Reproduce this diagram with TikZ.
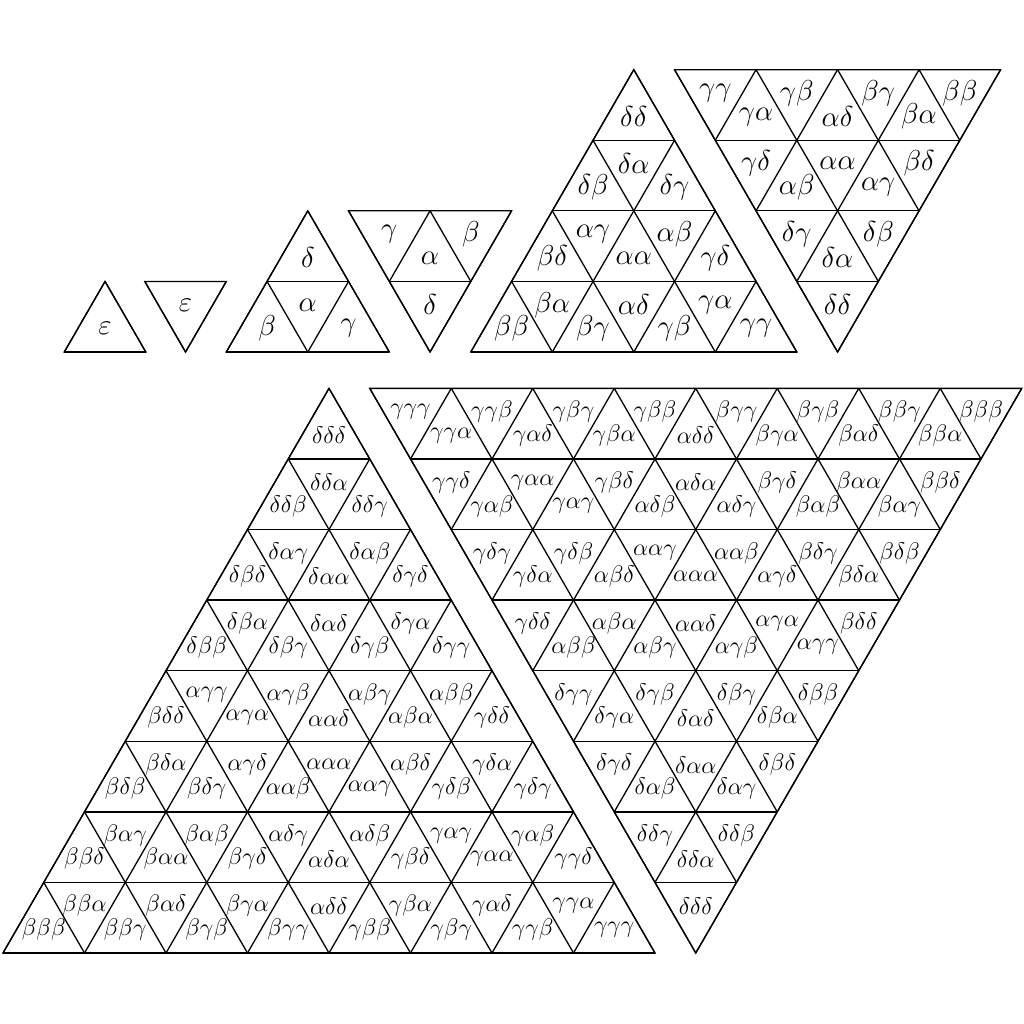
\documentclass[tikz,border=0pt]{standalone}
\def\A{\alpha}\def\B{\beta}\def\G{\gamma}\def\D{\delta}\def\E{\varepsilon}
\def\U{81.5}\def\H{70.58}
\tikzset{
  gridline/.style={line width=0.65pt,line join=miter},
  lab/.style={inner sep=0pt,font=\Large},
  labs/.style={inner sep=0pt,font=\large}
}
\newcommand\upgrid[3]{%
  \pgfmathtruncatemacro\nmone{#3-1}%
  \draw[gridline] ({#1},{#2}) -- ({(#1)+#3*\U},{#2}) -- ({(#1)+#3*\U/2},{(#2)-#3*\H}) -- cycle;
  \foreach \k in {0,...,\nmone}{\draw[gridline] ({(#1)+\k*\U/2},{(#2)-\k*\H}) -- ({(#1)+#3*\U-\k*\U/2},{(#2)-\k*\H});}%
  \foreach \j in {0,...,\nmone}{\draw[gridline] ({(#1)+\j*\U},{#2}) -- ({(#1)+\j*\U+(#3-\j)*\U/2},{(#2)-(#3-\j)*\H});}%
  \foreach \j in {1,...,#3}{\draw[gridline] ({(#1)+\j*\U},{#2}) -- ({(#1)+\j*\U/2},{(#2)-\j*\H});}%
}
\newcommand\downgrid[3]{%
  \pgfmathtruncatemacro\nmone{#3-1}%
  \draw[gridline] ({#1},{#2}) -- ({(#1)+#3*\U},{#2}) -- ({(#1)+#3*\U/2},{(#2)+#3*\H}) -- cycle;
  \foreach \k in {0,...,\nmone}{\draw[gridline] ({(#1)+\k*\U/2},{(#2)+\k*\H}) -- ({(#1)+#3*\U-\k*\U/2},{(#2)+\k*\H});}%
  \foreach \j in {0,...,\nmone}{\draw[gridline] ({(#1)+\j*\U},{#2}) -- ({(#1)+\j*\U+(#3-\j)*\U/2},{(#2)+(#3-\j)*\H});}%
  \foreach \j in {1,...,#3}{\draw[gridline] ({(#1)+\j*\U},{#2}) -- ({(#1)+\j*\U/2},{(#2)+\j*\H});}%
}
% #1 name, #2 apex x, #3 apex y, #4 style, #5 rows
\newcommand\uplabels[5]{%
  \foreach \row [count=\r] in {#5}{%
    \foreach \txt [count=\i] in \row{%
      \ifodd\i\relax\def\fr{2}\else\def\fr{1}\fi
      \node[#4] (#1-\r-\i) at ({(#2)-\r*\U/2+\i*\U/2},{(#3)+(\r-1)*\H+\fr*\H/3}) {$\txt$};
    }}}
% #1 name, #2 top-left x, #3 top y, #4 style, #5 rows
\newcommand\downlabels[5]{%
  \foreach \row [count=\r] in {#5}{%
    \foreach \txt [count=\i] in \row{%
      \ifodd\i\relax\def\fr{1}\else\def\fr{2}\fi
      \node[#4] (#1-\r-\i) at ({(#2)+(\r-1)*\U/2+\i*\U/2},{(#3)+(\r-1)*\H+\fr*\H/3}) {$\txt$};
    }}}
\begin{document}
\begin{tikzpicture}[x=0.5pt,y=-0.5pt]
\useasboundingbox (0,0) rectangle (1024,1024);
% level 0
\upgrid{64.3}{352}{1}
\uplabels{a0}{64.3+\U/2}{352-\H}{lab}{{\E}}
\downgrid{144.8}{352-\H}{1}
\downlabels{b0}{144.8}{352-\H}{lab}{{\E}}
% level 1
\upgrid{226.3}{352}{2}
\uplabels{a1}{226.3+\U}{352-2*\H}{lab}{{\D},{\B,\A,\G}}
\downgrid{348.55}{352-2*\H}{2}
\downlabels{b1}{348.55}{352-2*\H}{lab}{{\G,\A,\B},{\D}}
% level 2
\upgrid{470.8}{352}{4}
\uplabels{a2}{470.8+2*\U}{352-4*\H}{lab}{{\D\D},{\D\B,\D\A,\D\G},{\B\D,\A\G,\A\A,\A\B,\G\D},{\B\B,\B\A,\B\G,\A\D,\G\B,\G\A,\G\G}}
\downgrid{674.55}{352-4*\H}{4}
\downlabels{b2}{674.55}{352-4*\H}{lab}{{\G\G,\G\A,\G\B,\A\D,\B\G,\B\A,\B\B},{\G\D,\A\B,\A\A,\A\G,\B\D},{\D\G,\D\A,\D\B},{\D\D}}
% level 3
\upgrid{3}{953}{8}
\uplabels{a3}{3+4*\U}{953-8*\H}{labs}{%
{\D\D\D},
{\D\D\B,\D\D\A,\D\D\G},
{\D\B\D,\D\A\G,\D\A\A,\D\A\B,\D\G\D},
{\D\B\B,\D\B\A,\D\B\G,\D\A\D,\D\G\B,\D\G\A,\D\G\G},
{\B\D\D,\A\G\G,\A\G\A,\A\G\B,\A\A\D,\A\B\G,\A\B\A,\A\B\B,\G\D\D},
{\B\D\B,\B\D\A,\B\D\G,\A\G\D,\A\A\B,\A\A\A,\A\A\G,\A\B\D,\G\D\B,\G\D\A,\G\D\G},
{\B\B\D,\B\A\G,\B\A\A,\B\A\B,\B\G\D,\A\D\G,\A\D\A,\A\D\B,\G\B\D,\G\A\G,\G\A\A,\G\A\B,\G\G\D},
{\B\B\B,\B\B\A,\B\B\G,\B\A\D,\B\G\B,\B\G\A,\B\G\G,\A\D\D,\G\B\B,\G\B\A,\G\B\G,\G\A\D,\G\G\B,\G\G\A,\G\G\G}}
\downgrid{369.75}{953-8*\H}{8}
\downlabels{b3}{369.75}{953-8*\H}{labs}{%
{\G\G\G,\G\G\A,\G\G\B,\G\A\D,\G\B\G,\G\B\A,\G\B\B,\A\D\D,\B\G\G,\B\G\A,\B\G\B,\B\A\D,\B\B\G,\B\B\A,\B\B\B},
{\G\G\D,\G\A\B,\G\A\A,\G\A\G,\G\B\D,\A\D\B,\A\D\A,\A\D\G,\B\G\D,\B\A\B,\B\A\A,\B\A\G,\B\B\D},
{\G\D\G,\G\D\A,\G\D\B,\A\B\D,\A\A\G,\A\A\A,\A\A\B,\A\G\D,\B\D\G,\B\D\A,\B\D\B},
{\G\D\D,\A\B\B,\A\B\A,\A\B\G,\A\A\D,\A\G\B,\A\G\A,\A\G\G,\B\D\D},
{\D\G\G,\D\G\A,\D\G\B,\D\A\D,\D\B\G,\D\B\A,\D\B\B},
{\D\G\D,\D\A\B,\D\A\A,\D\A\G,\D\B\D},
{\D\D\G,\D\D\A,\D\D\B},
{\D\D\D}}
\end{tikzpicture}
\end{document}
